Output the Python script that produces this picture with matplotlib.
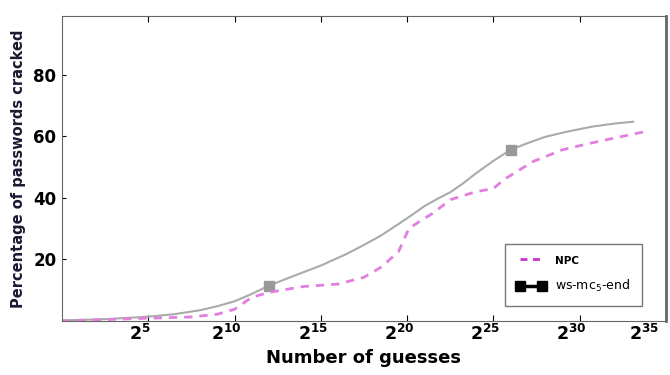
import numpy as np
import matplotlib.pyplot as plt
from matplotlib.transforms import ScaledTranslation

# guesses on a log2 scale (exponent) vs. percentage cracked
ws_x = [0, 2.5, 5, 6.5, 8, 9, 10, 11, 12, 13.5, 15, 16.5, 17.5, 18.5, 19.5, 20.3,
        21, 21.8, 22.5, 23.2, 24, 25, 26, 27, 28, 29.2, 30.7, 32, 33.1]
ws_y = [0.2, 0.6, 1.4, 2.2, 3.5, 4.8, 6.4, 8.8, 11.5, 14.8, 18, 21.8, 24.7, 27.8, 31.5, 34.5,
        37.3, 39.8, 41.8, 44.5, 48, 52, 55.6, 57.8, 59.8, 61.4, 63.1, 64.1, 64.7]

npc_x = [0, 5, 7.5, 9, 10, 11, 12, 14, 16, 17.5, 18.5, 19.5, 20.1, 20.9, 21.5, 22.5,
         24, 25, 25.6, 27.3, 29, 30.6, 32, 33.8]
npc_y = [0, 0.9, 1.3, 2.2, 3.8, 7.7, 9.3, 11.2, 12, 14.2, 17.5, 22.5, 30, 33, 35, 39.4,
         42, 43, 45.9, 51.8, 55.6, 57.7, 59.4, 61.5]

x_ticks = [5, 10, 15, 20, 25, 30, 35]
y_ticks = [20, 40, 60, 80]

fig = plt.figure(figsize=(6.7, 3.75), dpi=100)
ax = fig.add_axes([0.0925, 0.144, 0.9015, 0.813])

ax.plot(ws_x, ws_y, color='#aaaaaa', lw=1.5, marker='s', ms=7,
        markevery=[8, 22], mfc='#999999', mec='#999999')
ax.plot(npc_x, npc_y, color='#e27ee0', lw=2, ls=(0, (3, 2.5)))

# legend entries drawn with their own styles
h_npc, = ax.plot([], [], color='#cc33cc', lw=2, ls=(0, (2.5, 2)))
h_ws, = ax.plot([], [], color='black', lw=2.5, marker='s', ms=7)
leg = ax.legend([h_npc, h_ws], ['NPC', 'ws-mc$_5$-end'], loc='lower right',
                bbox_to_anchor=(0.97, 0.03), fancybox=False, handlelength=2.3,
                numpoints=2, fontsize=9, borderpad=0.9, labelspacing=1.0,
                handletextpad=0.8)
leg.get_frame().set_edgecolor('#555555')
leg.get_texts()[0].set_fontweight('bold')
leg.get_texts()[0].set_fontsize(7.5)

ax.set_xlim(0, 35)
ax.set_ylim(0, 99)
ax.set_xticks(x_ticks)
ax.set_xticklabels([f'$\\mathbf{{2^{{{t}}}}}$' for t in x_ticks], fontsize=12.5)
ax.set_yticks(y_ticks)
ax.set_yticklabels([str(v) for v in y_ticks], fontsize=12, fontweight='bold')
ax.tick_params(axis='x', direction='in', top=True, length=4, pad=2)
ax.tick_params(axis='y', direction='in', length=3, pad=4)
labels = ax.get_xticklabels()
for i, lbl in enumerate(labels):
    dx = -0.22 if i == len(labels) - 1 else -0.08
    lbl.set_transform(lbl.get_transform() + ScaledTranslation(dx, 0, fig.dpi_scale_trans))

for s in ax.spines.values():
    s.set_color('#666666')
ax.spines['right'].set_linewidth(2)

ax.set_xlabel('Number of guesses', fontsize=13, fontweight='bold', labelpad=4)
ax.set_ylabel('Percentage of passwords cracked', fontsize=10.5, fontweight='bold',
              color='#1a1a33', labelpad=5)

fig.savefig('out.png', dpi=100)
